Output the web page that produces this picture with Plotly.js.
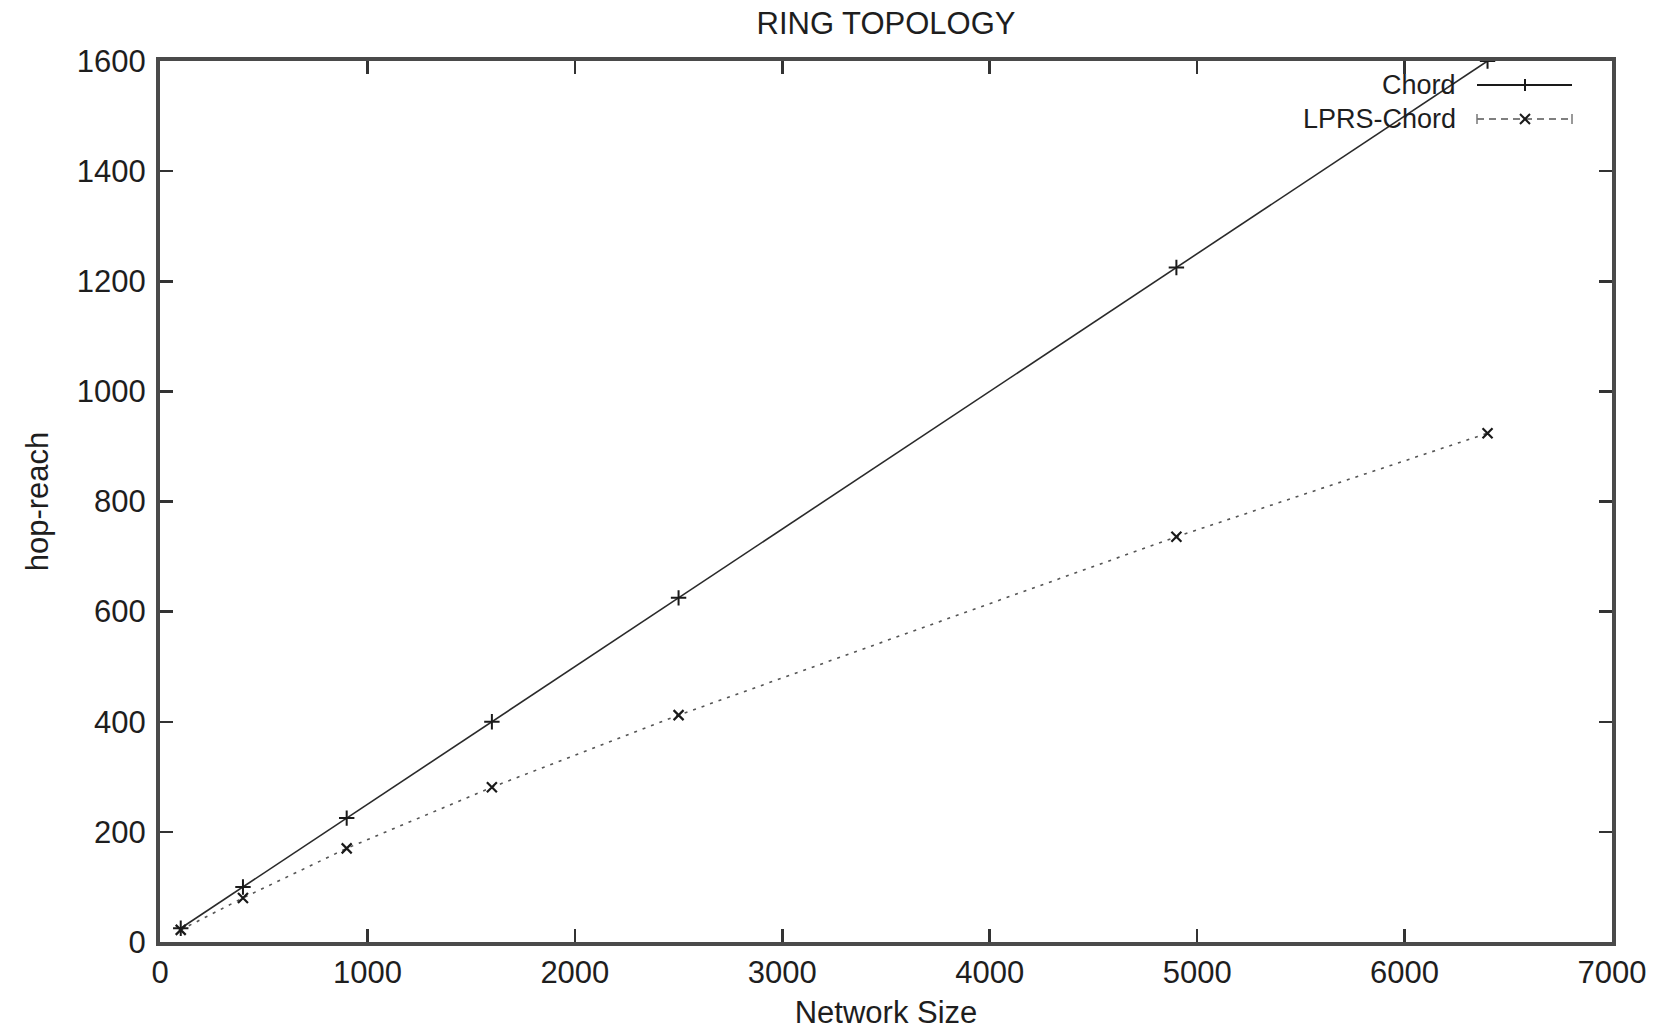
<!DOCTYPE html>
<html>
<head>
<meta charset="utf-8">
<script src="https://cdn.plot.ly/plotly-3.0.1.min.js"></script>
<style>html,body{margin:0;padding:0;background:#fff;}#chart{width:1672px;height:1030px;}</style>
</head>
<body>
<div id="chart"></div>
<script>
// Data
var networkSize = [100, 400, 900, 1600, 2500, 4900, 6400];
var chordHops = [25, 100, 225, 400, 625, 1225, 1600];
var lprsChordHops = [22, 80, 170, 281, 412, 736, 924];
var seriesNames = ["Chord", "LPRS-Chord"];
var xTickValues = [0, 1000, 2000, 3000, 4000, 5000, 6000, 7000];
var yTickValues = [0, 200, 400, 600, 800, 1000, 1200, 1400, 1600];

var FONT = "Liberation Sans, Arial, Helvetica, sans-serif";
var TXT = "#1e1e1e";
var FS = 31;
var LFS = 27;

var traces = [
  {
    x: networkSize, y: chordHops, name: seriesNames[0], type: "scatter", mode: "lines+markers",
    line: {color: "#2a2a2a", width: 1.6},
    marker: {symbol: "cross-thin", size: 11, line: {color: "#1a1a1a", width: 2}},
    showlegend: false
  },
  {
    x: networkSize, y: lprsChordHops, name: seriesNames[1], type: "scatter", mode: "lines+markers",
    line: {color: "#555555", width: 1.6, dash: "3px,6px"},
    marker: {symbol: "x-thin", size: 10, line: {color: "#1a1a1a", width: 2.2}},
    showlegend: false
  }
];

// manual gnuplot-style legend (text left, sample right) in paper coords
var L = 160, R = 1612, T = 61, B = 942;
function px(x) { return (x - L) / (R - L); }
function py(y) { return (B - y) / (B - T); }
var row1 = 85, row2 = 119;
var sx0 = 1477, sx1 = 1572, sxc = 1525;
var ms = 6;
var shapes = [
  {type: "line", xref: "paper", yref: "paper", x0: px(sx0), x1: px(sx1), y0: py(row1), y1: py(row1), line: {color: "#1a1a1a", width: 2}},
  {type: "line", xref: "paper", yref: "paper", x0: px(sxc), x1: px(sxc), y0: py(row1 - ms), y1: py(row1 + ms), line: {color: "#1a1a1a", width: 2}},
  {type: "line", xref: "paper", yref: "paper", x0: px(sx0), x1: px(sx1), y0: py(row2), y1: py(row2), line: {color: "#555", width: 1.6, dash: "7px,5px"}},
  {type: "line", xref: "paper", yref: "paper", x0: px(sx0), x1: px(sx0), y0: py(row2 - 5), y1: py(row2 + 5), line: {color: "#777", width: 1.5}},
  {type: "line", xref: "paper", yref: "paper", x0: px(sx1), x1: px(sx1), y0: py(row2 - 5), y1: py(row2 + 5), line: {color: "#777", width: 1.5}},
  {type: "line", xref: "paper", yref: "paper", x0: px(sxc - 5), x1: px(sxc + 5), y0: py(row2 - 5), y1: py(row2 + 5), line: {color: "#1a1a1a", width: 2}},
  {type: "line", xref: "paper", yref: "paper", x0: px(sxc - 5), x1: px(sxc + 5), y0: py(row2 + 5), y1: py(row2 - 5), line: {color: "#1a1a1a", width: 2}}
];
var annotations = [
  {xref: "paper", yref: "paper", x: px(1457), y: py(row1), xanchor: "right", yanchor: "middle", showarrow: false, borderpad: 0, text: seriesNames[0], font: {family: FONT, size: LFS, color: TXT}},
  {xref: "paper", yref: "paper", x: px(1457), y: py(row2), xanchor: "right", yanchor: "middle", showarrow: false, borderpad: 0, text: seriesNames[1], font: {family: FONT, size: LFS, color: TXT}}
];

var axisCommon = {
  showgrid: false, zeroline: false, showline: true, linecolor: "#4a4a4a", linewidth: 4,
  mirror: "ticks", ticks: "inside", ticklen: 13, tickwidth: 2.5, tickcolor: "#333",
  tickfont: {family: FONT, size: FS, color: TXT}
};

var layout = {
  width: 1672, height: 1030,
  margin: {l: 160, r: 60, t: 61, b: 88, pad: 0},
  paper_bgcolor: "#fff", plot_bgcolor: "#fff",
  title: {text: "RING TOPOLOGY", x: 0.5, xref: "paper", y: 1 - 23 / 1030, yref: "container", yanchor: "middle", font: {family: FONT, size: FS, color: TXT}},
  xaxis: Object.assign({}, axisCommon, {
    range: [0, 7000], tickvals: xTickValues, ticktext: xTickValues.map(String),
    title: {text: "Network Size", font: {family: FONT, size: FS, color: TXT}, standoff: 17}
  }),
  yaxis: Object.assign({}, axisCommon, {
    range: [0, 1600], tickvals: yTickValues, ticktext: yTickValues.map(String),
    ticklabelstandoff: 4,
    title: {text: "hop-reach", font: {family: FONT, size: FS, color: TXT}, standoff: 20}
  }),
  shapes: shapes,
  annotations: annotations,
  showlegend: false
};

Plotly.newPlot("chart", traces, layout, {displayModeBar: false, staticPlot: true});
</script>
</body>
</html>
